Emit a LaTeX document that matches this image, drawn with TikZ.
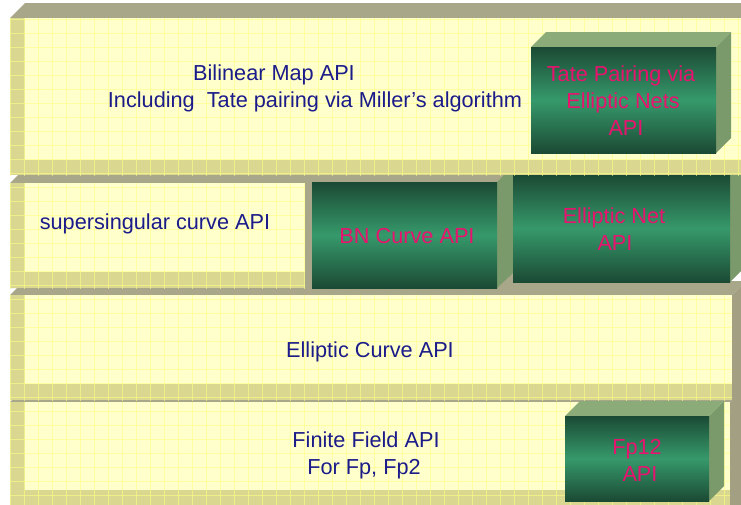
\documentclass[tikz,border=0pt]{standalone}
\usepackage{fontspec}
\setmainfont{Liberation Sans}
\definecolor{faceY}{HTML}{FFFFCC}
\definecolor{stripY}{HTML}{D9D790}
\definecolor{gridY}{HTML}{FFFF85}
\definecolor{greyTop}{HTML}{A9A78A}
\definecolor{greySide}{HTML}{A29F83}
\definecolor{greenTop}{HTML}{8BAB79}
\definecolor{greenSide}{HTML}{7B9A6B}
\definecolor{greenDark}{HTML}{1B4A34}
\definecolor{greenMid}{HTML}{36996B}
\definecolor{labelPink}{HTML}{E8136E}
\definecolor{labelNavy}{HTML}{1B1B8A}
\newcommand\slabgrid{%
  \foreach \gi in {0,...,52}{\draw[gridline] ({10.3+14*\gi},0) -- ({10.3+14*\gi},510);}
  \foreach \gj in {0,...,36}{\draw[gridline] (0,{5.3+14*\gj}) -- (745,{5.3+14*\gj});}}
\tikzset{
  yface/.style={fill=faceY},
  ystrip/.style={fill=stripY},
  slabtop/.style={fill=greyTop},
  slabside/.style={fill=greySide},
  gridline/.style={draw=gridY, opacity=0.6, line width=0.9pt},
  boxtop/.style={fill=greenTop},
  boxside/.style={fill=greenSide},
  boxfront/.style={top color=greenDark, bottom color=greenDark, middle color=greenMid},
  navylabel/.style={text=labelNavy, inner sep=0pt, anchor=base, font=\fontsize{21.7}{26}\selectfont},
  pinklabel/.style={text=labelPink, inner sep=0pt, anchor=base, font=\fontsize{21.7}{26}\selectfont},
}
\begin{document}
\begin{tikzpicture}[x=1pt,y=-1pt]
\useasboundingbox (0,0) rectangle (741,504);
\clip (0,0) rectangle (741,504);

% ---- bottom slab: finite field layer
\fill[slabtop] (10,402) -- (24,388) -- (745,388) -- (730,402) -- cycle;
\fill[slabside] (730,402) -- (744,388) -- (744,520) -- (730,520) -- cycle;
\fill[yface] (10,402) rectangle (730,505);
\fill[ystrip] (10,402) rectangle (25,505);
\fill[ystrip] (10,490) rectangle (730,505);
\begin{scope}
  \clip (10,402) rectangle (730,505);
  \slabgrid
\end{scope}
% Fp12 box
\fill[boxtop] (565,416) -- (580,401) -- (724,401) -- (709,416) -- cycle;
\fill[boxside] (709,416) -- (724,401) -- (724,486) -- (709,501) -- cycle;
\shade[boxfront] (565,416) rectangle (709,501);

% ---- elliptic curve layer
\fill[slabtop] (10,295) -- (24,281) -- (746,281) -- (732,295) -- cycle;
\fill[slabside] (732,295) -- (746,281) -- (746,386) -- (732,400) -- cycle;
\fill[yface] (10,295) rectangle (732,400);
\fill[ystrip] (10,295) rectangle (25,400);
\fill[ystrip] (10,384) rectangle (732,400);
\begin{scope}
  \clip (10,295) rectangle (732,400);
  \slabgrid
\end{scope}

% ---- curve layer
\fill[slabtop] (10,183) -- (24,169) -- (730,169) -- (730,288) -- (10,288) -- cycle;
\fill[yface] (10,183) rectangle (305,288);
\fill[ystrip] (10,183) rectangle (25,288);
\fill[ystrip] (10,272) rectangle (305,288);
\begin{scope}
  \clip (10,183) rectangle (305,288);
  \slabgrid
\end{scope}
% BN curve box
\fill[boxside] (497,182) -- (513,166) -- (513,273) -- (497,288) -- cycle;
\shade[boxfront] (312,182) rectangle (497,288);
% elliptic net box
\fill[boxside] (730,175) -- (745,160) -- (745,267) -- (730,282) -- cycle;
\shade[boxfront] (513,175) rectangle (730,282);

% ---- bilinear map layer
\fill[slabtop] (10,18) -- (25,3) -- (745,3) -- (745,18) -- cycle;
\fill[yface] (10,18) rectangle (745,175);
\fill[ystrip] (10,18) rectangle (25,175);
\fill[ystrip] (10,160) rectangle (745,175);
\begin{scope}
  \clip (10,18) rectangle (745,175);
  \slabgrid
\end{scope}
% Tate pairing box
\fill[boxtop] (531,47) -- (546,32) -- (731,32) -- (716,47) -- cycle;
\fill[boxside] (716,47) -- (731,32) -- (731,138) -- (716,153) -- cycle;
\shade[boxfront] (531,47) rectangle (716,153);

% ---- labels
\node[navylabel] (bil1) at (274,80) {Bilinear Map API};
\node[navylabel] (bil2) at (315,107) {Including\ \ Tate pairing via Miller’s algorithm};
\node[pinklabel] (tate1) at (621,81) {Tate Pairing via};
\node[pinklabel] (tate2) at (623,108) {Elliptic Nets};
\node[pinklabel] (tate3) at (626,135) {API};
\node[navylabel] (ss) at (155,229) {supersingular curve API};
\node[pinklabel] (bn) at (407,243) {BN Curve API};
\node[pinklabel] (en1) at (614,223) {Elliptic Net};
\node[pinklabel] (en2) at (615,250) {API};
\node[navylabel] (ec) at (370,357) {Elliptic Curve API};
\node[navylabel] (ff1) at (366,447) {Finite Field API};
\node[navylabel] (ff2) at (364,474) {For Fp, Fp2};
\node[pinklabel] (fp1) at (637,454) {Fp12};
\node[pinklabel] (fp2) at (640,481) {API};
\end{tikzpicture}
\end{document}
